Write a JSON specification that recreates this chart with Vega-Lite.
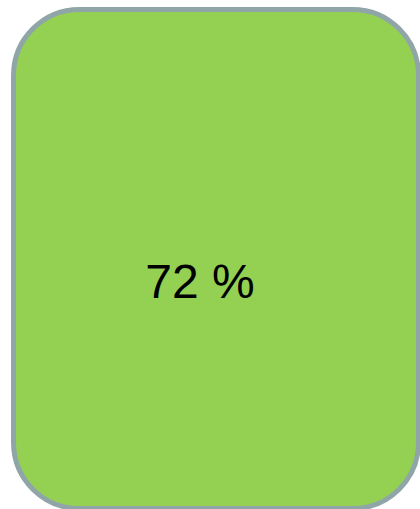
{
  "$schema": "https://vega.github.io/schema/vega-lite/v6.json",
  "width": 420,
  "height": 509,
  "padding": 0,
  "autosize": {"type": "none"},
  "background": "white",
  "config": {"view": {"stroke": null}},
  "layer": [
    {
      "data": {"values": [{"x1": 13.5, "x2": 418.5, "y1": 9.5, "y2": 508.5}]},
      "mark": {"type": "rect", "fill": "#94D152", "stroke": "#8FA5A8", "strokeWidth": 5, "cornerRadius": 66},
      "encoding": {
        "x": {"field": "x1", "type": "quantitative", "scale": {"domain": [0, 420], "nice": false, "zero": false}, "axis": null},
        "x2": {"field": "x2"},
        "y": {"field": "y1", "type": "quantitative", "scale": {"domain": [0, 509], "nice": false, "zero": false, "reverse": true}, "axis": null},
        "y2": {"field": "y2"}
      }
    },
    {
      "data": {"values": [{"x": 200, "y": 284, "label": "72 %"}]},
      "mark": {"type": "text", "font": "Liberation Sans", "fontSize": 48, "color": "#000000", "align": "center", "baseline": "middle"},
      "encoding": {
        "x": {"field": "x", "type": "quantitative"},
        "y": {"field": "y", "type": "quantitative"},
        "text": {"field": "label"}
      }
    }
  ]
}
